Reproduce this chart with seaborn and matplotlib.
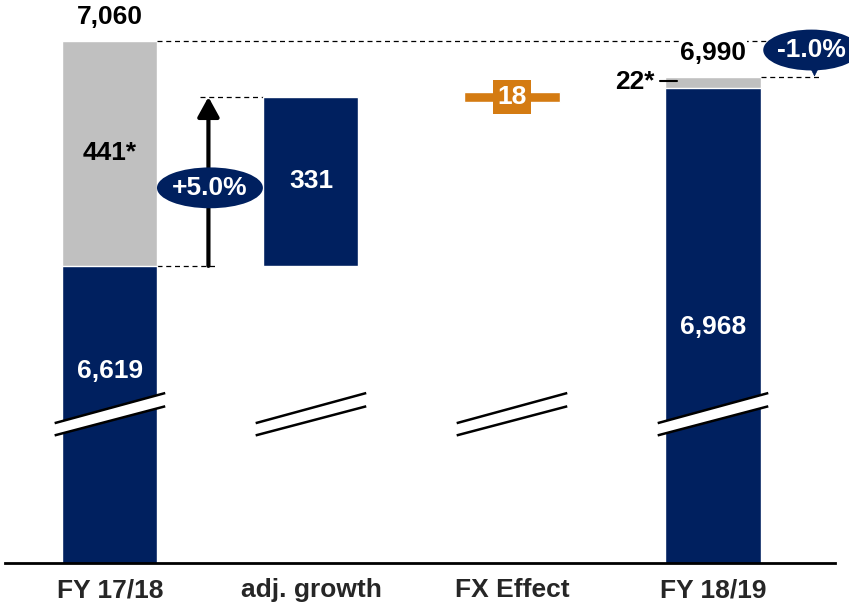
import numpy as np
import pandas as pd
import matplotlib
matplotlib.use("Agg")
import matplotlib.pyplot as plt
from matplotlib.patches import Ellipse, Polygon
import seaborn as sns

# values
categories = ["FY 17/18", "adj. growth", "FX Effect", "FY 18/19"]
base_values = [6619, np.nan, np.nan, 6968]      # navy part of the totals
total_values = [7060, np.nan, np.nan, 6990]     # incl. one-offs (grey)
one_offs = [441, 22]
growth = 331
fx_effect = 18
growth_pct = "+5.0%"
change_pct = "-1.0%"

NAVY = "#00205F"
GREY = "#C0C0C0"
ORANGE = "#D47B12"
FS = 19

sns.set_theme(style="white")
plt.rcParams["font.family"] = ["Liberation Sans", "DejaVu Sans"]
plt.rcParams["font.weight"] = "bold"

df = pd.DataFrame({"cat": categories, "total": total_values, "base": base_values})

fig = plt.figure(figsize=(8.49, 6.04), dpi=100)
ax = fig.add_axes([5 / 849, 41 / 604, 830 / 849, 563 / 604])

w = 0.473
sns.barplot(data=df, x="cat", y="total", color=GREY, width=w, saturation=1, ax=ax, zorder=1)
sns.barplot(data=df, x="cat", y="base", color=NAVY, width=w, saturation=1, ax=ax, zorder=2)

start = base_values[0]
after_growth = start + growth
ax.bar(1, growth, bottom=start, width=w, color=NAVY, zorder=2)
ax.bar(2, fx_effect, bottom=after_growth - fx_effect / 2, width=w, color=ORANGE, zorder=2)

ax.set_ylim(6037, 7140)
ax.set_xlim(-0.522, 3.607)
ax.set_xlabel("")
ax.set_ylabel("")
ax.set_yticks([])
for s in ["top", "left", "right"]:
    ax.spines[s].set_visible(False)
ax.spines["bottom"].set_linewidth(2)
ax.spines["bottom"].set_color("black")
ax.tick_params(axis="x", length=0, pad=11)
for lab in ax.get_xticklabels():
    lab.set_fontsize(FS)
    lab.set_fontweight("bold")

# axis break marks
for c in range(4):
    x0, x1 = c - 0.275, c + 0.275
    up = (6311, 6370)
    lo = (6287, 6344)
    ax.add_patch(Polygon([(x0, up[0]), (x1, up[1]), (x1, lo[1]), (x0, lo[0])],
                         closed=True, facecolor="white", edgecolor="none", zorder=3))
    ax.plot([x0, x1], up, color="black", lw=1.8, zorder=4, solid_capstyle="butt")
    ax.plot([x0, x1], lo, color="black", lw=1.8, zorder=4, solid_capstyle="butt")

# dashed connectors
dash = dict(color="black", lw=0.9, ls=(0, (4, 3)), zorder=1)
ax.plot([w / 2, 0.54], [start, start], **dash)
ax.plot([0.45, 1 - w / 2], [after_growth, after_growth], **dash)
ax.plot([w / 2, 3.3], [total_values[0], total_values[0]], **dash)
ax.plot([3 + w / 2, 3.54], [total_values[3], total_values[3]], **dash, clip_on=False)

# growth arrow and ellipse
ax.annotate("", xy=(0.49, after_growth), xytext=(0.49, start),
            arrowprops=dict(arrowstyle="-|>,head_width=0.33,head_length=0.6",
                            mutation_scale=20, lw=3, color="black",
                            shrinkA=0, shrinkB=0), zorder=5)
ax.add_patch(Ellipse((0.4975, 6772), 0.527, 80, facecolor=NAVY, edgecolor="none", zorder=6))
ax.text(0.4975, 6772, growth_pct, color="white", fontsize=FS, fontweight="bold",
        ha="center", va="center", zorder=7)

# change ellipse at top right
ax.add_patch(Ellipse((3.49, 7042), 0.48, 80, facecolor=NAVY, edgecolor="none",
                     zorder=6, clip_on=False))
ax.text(3.49, 7042, change_pct, color="white", fontsize=FS, fontweight="bold",
        ha="center", va="center", zorder=7, clip_on=False)
ax.annotate("", xy=(3.505, total_values[3]), xytext=(3.505, 7003),
            arrowprops=dict(arrowstyle="-|>,head_width=0.25,head_length=0.5",
                            mutation_scale=12, lw=0.5, color=NAVY,
                            shrinkA=0, shrinkB=0), zorder=6, annotation_clip=False)

# value labels
lab = dict(fontsize=FS, fontweight="bold", ha="center", va="center", zorder=7)
ax.annotate(f"{total_values[0]:,}", (0, total_values[0]), xytext=(0, 17),
            textcoords="offset points", color="black", **lab)
ax.annotate(f"{total_values[3]:,}", (3, total_values[3]), xytext=(0, 17),
            textcoords="offset points", color="black",
            bbox=dict(facecolor="white", edgecolor="none", pad=1), **lab)
ax.text(0, start + one_offs[0] / 2, f"{one_offs[0]}*", color="black", **lab)
ax.text(0, 6413, f"{start:,}", color="white", **lab)
ax.text(1, start + growth / 2, f"{growth}", color="white", **lab)
ax.text(3, 6500, f"{base_values[3]:,}", color="white", **lab)
ax.text(2, after_growth, f"{fx_effect}", color="white",
        bbox=dict(facecolor=ORANGE, edgecolor="none", boxstyle="square,pad=0.18"), **lab)

# one-off label on the right bar
ax.text(2.71, 6979, f"{one_offs[1]}*", color="black", fontsize=FS, fontweight="bold",
        ha="right", va="center", zorder=7)
ax.plot([2.735, 2.82], [6981, 6981], color="black", lw=1.5, zorder=7)

fig.savefig("out.png", dpi=100)
